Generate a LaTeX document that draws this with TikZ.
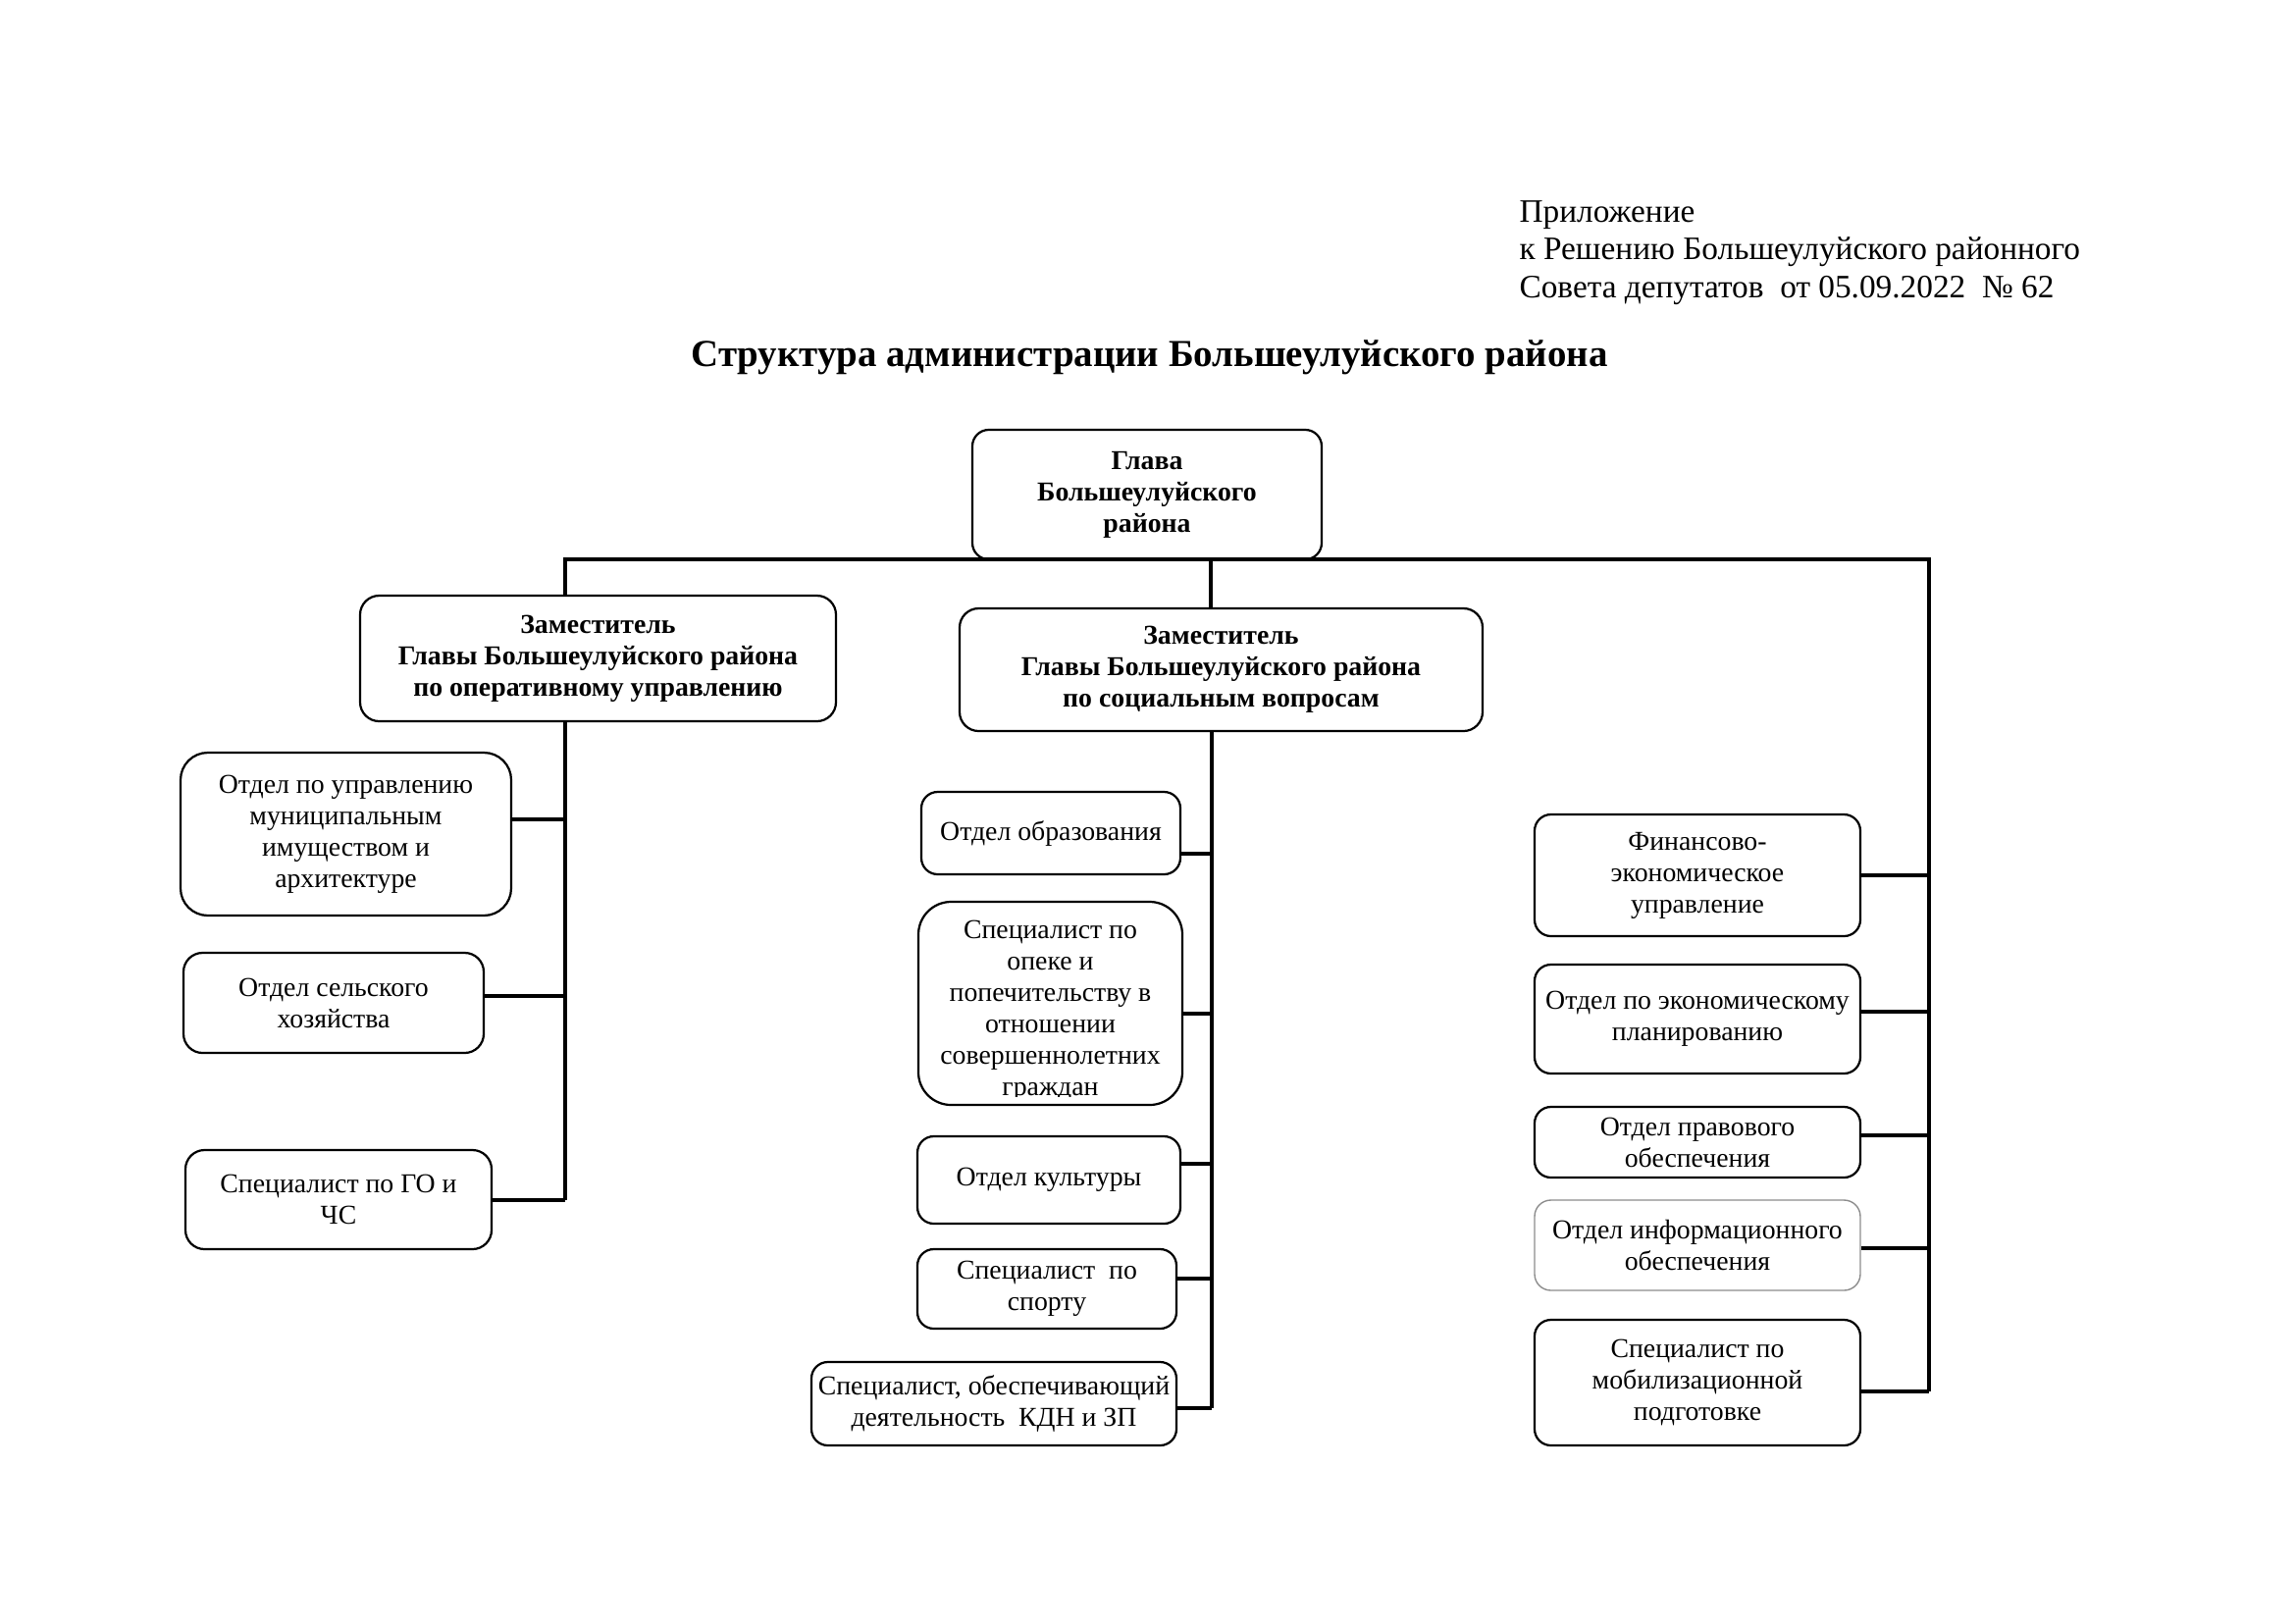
\documentclass[tikz,border=0pt]{standalone}
\usepackage{fontspec}
\setmainfont{Liberation Serif}
\usetikzlibrary{calc}
\tikzset{
  box/.style={draw, line width=0.8pt, rounded corners=6pt, align=center, inner sep=0pt,
    font=\fontsize{10}{11.5}\selectfont},
  boldbox/.style={box, font=\fontsize{10}{11.5}\selectfont\bfseries},
  graybox/.style={box, draw=black!45, line width=0.5pt},
  bsize/.style 2 args={minimum width=#1*0.36pt, minimum height=#2*0.36pt},
  boxtext/.style={align=center, inner sep=0pt, font=\fontsize{10}{11.5}\selectfont},
  link/.style={line width=1.5pt, line join=miter},
}
\begin{document}
\begin{tikzpicture}[x=0.36pt, y=-0.36pt]
\useasboundingbox (0,0) rectangle (2339,1654);

% header
\node[anchor=base west, align=left, inner sep=0pt, font=\fontsize{12}{13.7}\selectfont] (hdr) at (1548,303)
  {Приложение\\к Решению Большеулуйского районного\\Совета депутатов\ \ от 05.09.2022\ \ № 62};
\node[anchor=base west, inner sep=0pt, font=\fontsize{14}{17}\selectfont\bfseries] (title) at (704,373)
  {Структура администрации Большеулуйского района};

% top level
\node[boldbox, rounded corners=6pt, bsize={356}{132}] (glava) at (1169,504) {Глава\\Большеулуйского\\района};
\node[boldbox, rounded corners=7pt, bsize={485}{128}] (dep1) at (609.5,671) {Заместитель\\Главы Большеулуйского района\\по оперативному управлению};
\node[boldbox, rounded corners=7pt, bsize={533}{125}] (dep2) at (1244.5,682.5) {Заместитель\\Главы Большеулуйского района\\по социальным вопросам};

% left column
\node[box, rounded corners=10pt, bsize={337}{166}] (l1) at (352.5,850) {Отдел по управлению\\муниципальным\\имуществом и\\архитектуре};
\node[box, rounded corners=7pt, bsize={306}{102}] (l2) at (340,1022) {Отдел сельского\\хозяйства};
\node[box, rounded corners=7pt, bsize={312}{101}] (l3) at (345,1222.5) {Специалист по ГО и\\ЧС};

% middle column
\node[box, bsize={264}{84}] (m1) at (1071,849) {Отдел образования};
\node[box, rounded corners=12pt, bsize={269}{207}] (m2) at (1070.5,1022.5) {};
\begin{scope}
  \clip (m2.north west) rectangle ($(m2.south east)+(0,-10)$);
  \node[boxtext] (m2t) at ($(m2.center)+(0,8)$) {Специалист по\\опеке и\\попечительству в\\отношении\\совершеннолетних\\граждан};
\end{scope}
\node[box, bsize={268}{89}] (m3) at (1069,1202.5) {Отдел культуры};
\node[box, bsize={264}{81}] (m4) at (1067,1313.5) {Специалист\ \ по\\спорту};
\node[box, bsize={372}{85}] (m5) at (1013,1430.5) {Специалист, обеспечивающий\\деятельность\ \ КДН и ЗП};

% right column
\node[box, bsize={332}{124}] (r1) at (1730,892) {Финансово-\\экономическое\\управление};
\node[box, bsize={332}{111}] (r2) at (1730,1038.5) {Отдел по экономическому\\планированию};
\node[box, bsize={332}{72}] (r3) at (1730,1164) {Отдел правового\\обеспечения};
\node[graybox, bsize={332}{92}] (r4) at (1730,1269) {Отдел информационного\\обеспечения};
\node[box, bsize={332}{128}] (r5) at (1730,1409) {Специалист по\\мобилизационной\\подготовке};

% junctions
\coordinate (lj) at (576,570);
\coordinate (rj) at (1966,570);
\coordinate (gj) at (1234,570);
\coordinate (mj) at (1235,745);
\coordinate (l1c) at ($(l1.east)+(0,-15)$);
\coordinate (l2c) at ($(l2.east)+(0,-7)$);
\coordinate (l3c) at ($(l3.east)+(0,0.5)$);
\coordinate (m1c) at ($(m1.east)+(0,21)$);
\coordinate (m2c) at ($(m2.east)+(0,10.5)$);
\coordinate (m3c) at ($(m3.east)+(0,-16.5)$);
\coordinate (m4c) at ($(m4.east)+(0,-10.5)$);
\coordinate (m5c) at ($(m5.east)+(0,4.5)$);
\coordinate (r1c) at (r1.east);
\coordinate (r2c) at ($(r2.east)+(0,-7.5)$);
\coordinate (r3c) at ($(r3.east)+(0,-7)$);
\coordinate (r4c) at ($(r4.east)+(0,3)$);
\coordinate (r5c) at ($(r5.east)+(0,9)$);

% connectors
\draw[link] (dep1.north -| lj) -- (lj) -- (rj) -- (rj |- r5c);
\draw[link] (gj) -- (gj |- dep2.north);
\draw[link] (dep1.south -| lj) -- (lj |- l3c);
\draw[link] (l1c) -- (l1c -| lj);
\draw[link] (l2c) -- (l2c -| lj);
\draw[link] (l3c) -- (l3c -| lj);
\draw[link] (dep2.south -| mj) -- (mj |- m5c);
\draw[link] (m1c) -- (m1c -| mj);
\draw[link] (m2c) -- (m2c -| mj);
\draw[link] (m3c) -- (m3c -| mj);
\draw[link] (m4c) -- (m4c -| mj);
\draw[link] (m5c) -- (m5c -| mj);
\draw[link] (r1c) -- (r1c -| rj);
\draw[link] (r2c) -- (r2c -| rj);
\draw[link] (r3c) -- (r3c -| rj);
\draw[link] (r4c) -- (r4c -| rj);
\draw[link] (r5c) -- (r5c -| rj);
\end{tikzpicture}
\end{document}
